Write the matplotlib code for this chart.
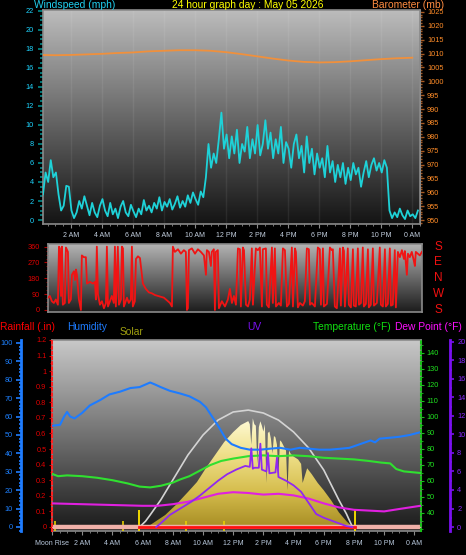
import numpy as np
import matplotlib.pyplot as plt
from matplotlib.colors import LinearSegmentedColormap
from matplotlib.ticker import MultipleLocator, FuncFormatter

plt.rcParams['font.family'] = ['Liberation Sans', 'DejaVu Sans']

# ---------------- data ----------------
# wind speed, 10 minute samples starting 00:12
wind_mph = [
    2.7, 5.0, 4.0, 6.3, 4.5, 5.0,
    2.7, 1.0, 1.5, 3.6, 3.5, 1.0,
    0.2, 0.8, 2.0, 1.2, 2.5, 1.5,
    0.5, 1.8, 0.8, 0.3, 1.5, 2.2,
    1.0, 0.4, 1.8, 0.6, 1.2, 0.2,
    1.4, 2.0, 0.8, 0.4, 1.6, 0.9,
    0.3, 1.2, 0.6, 2.1, 1.0, 1.5,
    0.8, 1.8, 1.2, 2.4, 1.0, 1.9,
    1.4, 2.2, 1.1, 1.7, 2.5, 1.3,
    2.0, 1.4, 2.6, 1.8, 2.9, 2.2,
    1.6, 3.0, 2.4, 4.5, 8.0, 5.5,
    7.0, 6.0, 8.5, 11.3, 7.5, 9.0,
    6.5, 8.8, 7.0, 9.5, 6.0, 8.0,
    7.2, 9.8, 6.5, 8.5, 7.0, 10.0,
    6.8, 8.0, 10.5, 7.5, 9.2, 6.5,
    8.5, 7.0, 9.8, 6.0, 8.2, 7.5,
    5.5, 8.0, 9.0, 6.5, 7.8, 5.0,
    8.8, 6.0, 7.5, 4.8, 7.0, 5.5,
    6.5, 4.5, 7.8, 5.0, 6.2, 4.0,
    5.8, 4.5, 6.0, 3.8, 5.5, 4.2,
    6.0, 4.8, 5.5, 3.5, 5.0, 6.2,
    4.5, 5.8, 6.5, 5.2, 6.0, 5.0,
    6.3, 5.5, 1.0, 0.2, 0.8, 0.3,
    1.2, 0.5, 0.1, 1.0, 0.4, 0.6,
    0.2, 1.0]
wind_hours = 0.2 + np.arange(len(wind_mph)) / 6

baro_hours = list(range(25))
baro_mb = [1009.5, 1009.4, 1009.5, 1009.7, 1009.9, 1010.2, 1010.4, 1010.8,
           1011.0, 1011.2, 1011.2, 1011.0, 1010.5, 1009.8, 1009.0, 1008.2,
           1007.5, 1007.0, 1006.8, 1006.9, 1007.2, 1007.6, 1008.0, 1008.3,
           1008.5]

dir_hours = [
    0.20, 0.32, 0.45, 0.58, 0.71, 0.84, 0.91, 0.97, 1.04, 1.10, 1.16, 1.29,
    1.36, 1.49, 1.55, 1.68, 1.75, 1.88, 1.94, 2.01, 2.07, 2.20, 2.33, 2.39,
    2.52, 2.65, 2.72, 2.91, 3.11, 3.24, 3.30, 3.36, 3.43, 3.56, 3.69, 3.82,
    3.95, 4.01, 4.08, 4.21, 4.33, 4.46, 4.53, 4.59, 4.72, 4.79, 4.92, 4.98,
    5.05, 5.11, 5.31, 5.43, 5.56, 5.63, 5.69, 5.82, 5.89, 6.02, 6.15, 6.21,
    6.34, 6.53, 6.73, 6.92, 7.12, 7.31, 7.51, 7.70, 7.89, 8.09, 8.22, 8.28,
    8.41, 8.61, 8.80, 8.99, 9.12, 9.19, 9.25, 9.32, 9.51, 9.71, 9.90, 10.09,
    10.29, 10.42, 10.48, 10.61, 10.74, 10.80, 10.93, 11.00, 11.06, 11.19,
    11.26, 11.45, 11.65, 11.84, 11.97, 12.10, 12.23,
    12.36, 12.49, 12.62, 12.68, 12.81, 12.88, 13.01, 13.14, 13.26, 13.39,
    13.46, 13.65, 13.78, 13.91, 14.04, 14.10, 14.30, 14.36, 14.49, 14.69,
    14.75, 14.88, 14.95, 15.14, 15.27, 15.40, 15.53, 15.66, 15.79, 15.98,
    16.05, 16.18, 16.24, 16.37, 16.50, 16.69, 16.82, 16.95, 17.08, 17.15,
    17.27, 17.47, 17.66, 17.79, 17.86, 17.99, 18.05, 18.25, 18.44, 18.57,
    18.63, 18.76, 18.89, 19.09, 19.15, 19.28, 19.35, 19.41, 19.60, 19.67,
    19.80, 19.93, 19.99, 20.12, 20.25, 20.32, 20.45, 20.57, 20.64, 20.77,
    20.90, 20.96, 21.09, 21.22, 21.29, 21.48, 21.67, 21.74, 21.87, 22.00,
    22.06, 22.19, 22.32, 22.39, 22.51, 22.64, 22.71, 22.84, 22.97, 23.10,
    23.23, 23.29, 23.42, 23.49, 23.61, 23.74, 23.87, 23.94, 24.00, 24.13,
    24.26, 24.39]
dir_deg = [
    70, 80, 50, 40, 60, 30, 360, 350, 80, 360, 30, 40,
    355, 330, 40, 60, 200, 220, 170, 230, 200, 60, 0, 310,
    300, 300, 150, 160, 150, 160, 60, 360, 90, 30, 50, 10,
    40, 360, 20, 50, 80, 40, 360, 20, 360, 30, 60, 360,
    350, 20, 70, 40, 60, 360, 20, 50, 290, 305, 295, 250,
    150, 120, 100, 95, 85, 80, 75, 70, 55, 40, 20, 360,
    330, 345, 320, 340, 330, 0, 10, 340, 350, 320, 345, 330,
    310, 200, 340, 330, 250, 330, 345, 0, 330, 340,
    10, 50, 20, 60, 120, 40, 80,
    30, 350, 345, 20, 355, 340, 30, 20, 60, 350,
    30, 350, 340, 355, 20, 345, 350, 30, 15, 355,
    40, 350, 20, 40, 25, 350, 340, 20, 35, 355,
    20, 350, 330, 15, 40, 25, 50, 350, 345, 30,
    40, 20, 355, 345, 30, 350, 20, 35, 355, 340,
    345, 20, 10, 350, 25, 355, 335, 20, 350, 30,
    15, 345, 25, 20, 350, 30, 40, 355, 20, 35,
    345, 15, 30, 350, 25, 40, 355, 30, 20, 345,
    20, 35, 350, 25, 30, 340, 15, 330, 300, 340,
    290, 335, 200, 320, 300, 330, 280, 250, 330, 320,
    310, 330]

hum_hours = [0, 0.53, 0.8, 1.0, 1.2, 1.5, 2.0, 2.5, 3.2, 3.8, 4.5, 5.2, 5.8,
             6.5, 6.8, 7.2, 7.8, 8.5, 9.1, 9.8, 10.2, 10.6, 11.0, 11.5, 11.9,
             12.5, 13.1, 13.8, 14.4, 15.1, 15.8, 16.4, 17.1, 17.7, 18.4, 19.1,
             19.7, 20.4, 21.1, 21.4, 21.7, 22.4, 23.0, 23.7, 24.4]
hum_pct = [55, 55.5, 60, 62.5, 60, 59, 62, 66, 69, 72, 73.5, 75.5, 76,
           78.5, 77.5, 76, 74, 72.5, 71, 68, 65, 60, 55, 48, 45,
           43, 42, 42, 42.5, 43, 42, 43, 42.5, 42, 42, 42.5,
           43, 45, 47, 46, 48, 48.5, 49, 50, 51.5]

temp_hours = [0, 0.4, 1, 2, 3, 4, 5, 5.8, 6.5, 7.2, 8, 8.5, 9.1, 9.8, 10.5,
              11.2, 12, 13, 14, 15, 16, 17, 18, 19, 20, 21, 21.8, 22.4, 22.8,
              23.3, 24.4]
temp_f = [64.5, 63.0, 63.5, 63, 62, 60.5, 58.5, 56.5, 56, 57, 59, 61, 63, 66.5,
          70, 72.5, 74, 75.5, 76, 75.5, 76, 75.5, 74.5, 74, 73.5, 72.5, 71.5,
          71, 67.5, 66, 65]

dew_hours = [0, 2, 4, 6, 7, 8, 9, 10, 11, 12, 13, 14, 15, 16, 17, 18, 19, 20,
             21, 22, 23, 24.4]
dew_f = [46, 45.5, 45, 44.5, 44.5, 45.5, 47, 49.5, 52, 53, 52.5, 51.5, 52,
         51, 49, 46, 43.5, 42, 41.5, 41, 42.5, 44.5]

solar_max_hours = [5.8, 6.2, 6.5, 7.2, 8, 9, 10, 11, 12, 13, 14, 15, 16, 17,
                   18, 19, 19.5, 19.9]
solar_max_wm2 = [0, 40, 82, 184, 320, 490, 626, 728, 783, 796, 776, 728, 647,
                 538, 388, 184, 90, 0]

solar_hours = [6.3, 6.8, 7.5, 8.2, 9.0, 9.6, 10.2, 10.8, 11.4, 12.0, 12.5,
               13.0, 13.1, 13.2, 13.3, 13.4, 13.5, 13.6, 13.7, 13.8, 13.9,
               14.0, 14.1, 14.2, 14.3, 14.4, 14.5, 14.6, 14.7, 14.8, 14.9,
               15.0, 15.1, 15.2, 15.4, 15.5, 15.6, 15.7, 15.8, 16.0, 16.3,
               16.5, 16.6, 16.9, 17.2, 17.6, 18.0, 18.5, 19.0, 19.5, 19.9]
solar_wm2 = [0, 34, 82, 150, 238, 306, 402, 490, 578, 646, 694,
             721, 700, 560, 740, 700, 690, 430, 680, 720, 690,
             650, 700, 300, 640, 650, 600, 500, 620, 610, 560,
             350, 590, 580, 540, 520, 250, 520, 500, 480, 460,
             430, 300, 400, 360, 300, 250, 180, 100, 40, 0]

uv_hours = [6.9, 7.2, 7.8, 8.5, 9.2, 9.8, 10.4, 11.0, 11.6, 12.2, 12.8, 13.1,
            13.2, 13.3, 13.4, 13.7, 13.8, 13.9, 14.2, 14.3, 14.4, 14.8, 14.9,
            15.0, 15.5, 16.0, 16.5, 17.0, 17.5, 18.0, 18.5, 19.0, 19.5, 19.9]
uv_index = [0, 0.4, 1.3, 2.0, 2.7, 3.4, 4.2, 5.0, 5.7, 6.2, 6.6, 6.5,
            8.5, 6.3, 6.4, 6.4, 9.0, 6.2, 6.0, 8.0, 5.8, 5.9, 7.5,
            5.4, 5.0, 4.5, 3.8, 2.6, 1.4, 1.0, 0.7, 0.4, 0.1, 0]

rain_hours = [0, 24.4]
rain_in = [0, 0]
sun_hours = [5.75, 20.05]          # sunrise / sunset
event_hours = [0.2, 4.7, 8.9, 11.4]

top_ticks = list(range(2, 25, 2))
top_labels = ['2 AM', '4 AM', '6 AM', '8 AM', '10 AM', '12 PM', '2 PM',
              '4 PM', '6 PM', '8 PM', '10 PM', '0 AM']
bot_ticks = [0] + top_ticks
bot_labels = ['Moon Rise'] + top_labels
dir_letters = ['S', 'E', 'N', 'W', 'S']
dir_letter_deg = [360, 270, 180, 90, 0]

# ---------------- helpers ----------------
W, H = 466, 555


def box(x0, y0, x1, y1):
    return [x0 / W, 1 - y1 / H, (x1 - x0) / W, (y1 - y0) / H]


def gradient(ax, top, bottom):
    cmap = LinearSegmentedColormap.from_list('bg', [bottom, top])
    ax.imshow(np.linspace(0, 1, 256).reshape(-1, 1), cmap=cmap, aspect='auto',
              origin='lower', extent=[0, 1, 0, 1], transform=ax.transAxes,
              zorder=0)


def frame(ax):
    for s in ax.spines.values():
        s.set_color('#8a8a8a')
        s.set_linewidth(1.2)


def only_spine(ax, side):
    for k, s in ax.spines.items():
        s.set_visible(k == side)


fig = plt.figure(figsize=(W / 100, H / 100), dpi=100, facecolor='black')

# ---------------- top: wind + barometer ----------------
ax_w = fig.add_axes(box(43, 10, 420, 224))
gradient(ax_w, '#bcbcbc', '#141414')
frame(ax_w)
ax_w.plot(wind_hours, wind_mph, color='#1ed2d8', lw=1.3, zorder=3)
ax_w.set_xlim(0.2, 24.5)
ax_w.set_ylim(-0.42, 22.1)
ax_w.set_yticks(range(0, 23, 2))
ax_w.yaxis.set_minor_locator(MultipleLocator(0.5))
ax_w.tick_params(axis='y', which='both', colors='#008b8b', labelcolor='#1ed4ff',
                 labelsize=5.3, width=1.2, pad=3)
ax_w.tick_params(axis='y', which='major', length=3.5)
ax_w.tick_params(axis='y', which='minor', length=2)
ax_w.set_xticks(top_ticks)
ax_w.set_xticklabels(top_labels)
ax_w.xaxis.set_minor_locator(MultipleLocator(0.5))
ax_w.tick_params(axis='x', which='both', colors='#8a8a8a', labelcolor='#c4d0e0',
                 labelsize=5, pad=2.5)
ax_w.tick_params(axis='x', which='major', length=3)
ax_w.tick_params(axis='x', which='minor', length=1.5)
ax_w.grid(axis='x', color='white', alpha=0.07, lw=1)

ax_b = ax_w.twinx()
only_spine(ax_b, 'right')
ax_b.spines['right'].set_color('#8a8a8a')
ax_b.plot(baro_hours, baro_mb, color='#f0903c', lw=1.3, zorder=3)
ax_b.set_ylim(948.56, 1025.7)
ax_b.set_yticks(range(950, 1026, 5))
ax_b.yaxis.set_minor_locator(MultipleLocator(1))
ax_b.tick_params(axis='y', which='both', colors='#a85a22', labelcolor='#ff8c28',
                 labelsize=5.3, width=1.0, pad=2)
ax_b.tick_params(axis='y', which='major', length=3)
ax_b.tick_params(axis='y', which='minor', length=1.5)

# ---------------- middle: wind direction ----------------
ax_d = fig.add_axes(box(48, 244, 422, 312))
gradient(ax_d, '#b4b4b4', '#1c1c1c')
frame(ax_d)
ax_d.plot(dir_hours, dir_deg, color='#f01414', lw=1.3, zorder=3)
ax_d.set_xlim(0.2, 24.4)
ax_d.set_ylim(-11.4, 375)
ax_d.set_xticks([])
ax_d.set_yticks([0, 90, 180, 270, 360])
ax_d.yaxis.set_minor_locator(MultipleLocator(22.5))
ax_d.tick_params(axis='y', which='both', colors='#b00000', labelcolor='#e00000',
                 labelsize=5.3, pad=3)
ax_d.tick_params(axis='y', which='major', length=3)
ax_d.tick_params(axis='y', which='minor', length=1.5)
for letter, deg in zip(dir_letters, dir_letter_deg):
    ax_d.text(1.043, deg, letter, transform=ax_d.get_yaxis_transform(),
              color='#f01010', fontsize=8.5, ha='center', va='center')

# ---------------- bottom: rain, humidity, solar, uv, temperature ----------------
ax_s = fig.add_axes(box(52, 340, 421, 531))
gradient(ax_s, '#c8c8c8', '#1a1a1a')
frame(ax_s)
poly = ax_s.fill_between(solar_hours, solar_wm2, 0, color='none', lw=0)
sol_cmap = LinearSegmentedColormap.from_list(
    'sol', ['#a88e24', '#d6be4e', '#efe08a', '#fffbd8'])
im = ax_s.imshow(np.linspace(0, 1, 256).reshape(-1, 1), cmap=sol_cmap,
                 aspect='auto', origin='lower',
                 extent=[min(solar_hours), max(solar_hours), 0, max(solar_wm2)],
                 zorder=1)
im.set_clip_path(poly.get_paths()[0], transform=ax_s.transData)
ax_s.plot(solar_max_hours, solar_max_wm2, color='#d4d4d4', lw=1.2, zorder=2)
ax_s.vlines(event_hours, 0, 0.05, transform=ax_s.get_xaxis_transform(),
            color='#e8d000', lw=1.2, zorder=4)
ax_s.vlines(sun_hours, 0, 0.11, transform=ax_s.get_xaxis_transform(),
            color='#f0d800', lw=1.4, zorder=4)
ax_s.set_xlim(0, 24.44)
ax_s.set_ylim(-27, 1273)
ax_s.yaxis.set_visible(False)
ax_s.set_xticks(bot_ticks)
ax_s.set_xticklabels(bot_labels)
ax_s.xaxis.set_minor_locator(MultipleLocator(0.5))
ax_s.tick_params(axis='x', which='both', colors='#8a8a8a', labelcolor='#b8c8dc',
                 labelsize=5, pad=3.5)
ax_s.tick_params(axis='x', which='major', length=3)
ax_s.tick_params(axis='x', which='minor', length=1.5)

# rainfall (left, on plot edge)
ax_r = ax_s.twinx()
ax_r.yaxis.tick_left()
only_spine(ax_r, 'left')
ax_r.spines['left'].set_color('#ff2020')
ax_r.spines['left'].set_linestyle((0, (1, 1.5)))
ax_r.spines['left'].set_linewidth(1.5)
ax_r.plot(rain_hours, rain_in, color='#f0b0a8', lw=3.2, zorder=2)
ax_r.plot(sun_hours, [0, 0], color='#ff1010', lw=2, zorder=3)
ax_r.set_ylim(-0.026, 1.2)
ax_r.set_yticks(np.arange(0, 1.21, 0.1))
ax_r.yaxis.set_major_formatter(FuncFormatter(lambda v, _: f'{v:g}'))
ax_r.yaxis.set_minor_locator(MultipleLocator(0.05))
ax_r.tick_params(axis='y', which='both', colors='#d00000', labelcolor='#e00000',
                 labelsize=5.3, pad=1.5)
ax_r.tick_params(axis='y', which='major', length=2.5)
ax_r.tick_params(axis='y', which='minor', length=1.2)

# humidity (left, outward)
ax_h = ax_s.twinx()
ax_h.yaxis.tick_left()
only_spine(ax_h, 'left')
ax_h.spines['left'].set_position(('outward', 22))
ax_h.spines['left'].set_color('#1e7cff')
ax_h.spines['left'].set_linewidth(2)
ax_h.plot(hum_hours, hum_pct, color='#1e7cff', lw=1.5, zorder=3)
ax_h.set_ylim(-2.2, 101.6)
ax_h.set_yticks(range(0, 101, 10))
ax_h.yaxis.set_minor_locator(MultipleLocator(2))
ax_h.tick_params(axis='y', which='both', colors='#1e7cff', labelcolor='#1e80ff',
                 labelsize=5.3, pad=2.5, width=1.2)
ax_h.tick_params(axis='y', which='major', length=3.5)
ax_h.tick_params(axis='y', which='minor', length=1.8)

# temperature + dew point (right)
ax_t = ax_s.twinx()
only_spine(ax_t, 'right')
ax_t.spines['right'].set_color('#18c018')
ax_t.spines['right'].set_linestyle((0, (1, 1.5)))
ax_t.spines['right'].set_linewidth(1.5)
ax_t.plot(temp_hours, temp_f, color='#30e030', lw=1.5, zorder=3)
ax_t.plot(dew_hours, dew_f, color='#e020e0', lw=1.5, zorder=3)
ax_t.set_ylim(28.75, 148.1)
ax_t.set_yticks(range(40, 141, 10))
ax_t.yaxis.set_minor_locator(MultipleLocator(5))
ax_t.tick_params(axis='y', which='both', colors='#18c018', labelcolor='#20e020',
                 labelsize=5.3, pad=1.5)
ax_t.tick_params(axis='y', which='major', length=2.5)
ax_t.tick_params(axis='y', which='minor', length=1.2)

# uv (right, outward)
ax_u = ax_s.twinx()
only_spine(ax_u, 'right')
ax_u.spines['right'].set_position(('outward', 21))
ax_u.spines['right'].set_color('#7a10f0')
ax_u.spines['right'].set_linewidth(2)
ax_u.plot(uv_hours, uv_index, color='#9028f0', lw=1.3, zorder=3)
ax_u.set_ylim(-0.43, 20.2)
ax_u.set_yticks(range(0, 21, 2))
ax_u.yaxis.set_minor_locator(MultipleLocator(1))
ax_u.tick_params(axis='y', which='both', colors='#7a10f0', labelcolor='#8a2cff',
                 labelsize=5.3, pad=2, width=1.2)
ax_u.tick_params(axis='y', which='major', length=3)
ax_u.tick_params(axis='y', which='minor', length=1.5)

# ---------------- headers ----------------
def header(x, y, s, color):
    fig.text(x / W, 1 - y / H, s, color=color, fontsize=7.4, ha='left',
             va='center')


header(34, 5, 'Windspeed (mph)', '#20d0f0')
header(172, 5, '24 hour graph day : May 05 2026', '#ffff00')
header(372, 5, 'Barometer (mb)', '#ff8c40')
header(0, 327, 'Rainfall (.in)', '#ff0000')
header(67, 327, 'Humidity', '#1e7cff')
header(120, 332, 'Solar', '#a0a010')
header(247, 327, 'UV', '#7a10f0')
header(313, 327, 'Temperature (\u00b0F)', '#10e010')
header(395, 327, 'Dew Point (\u00b0F)', '#ff10ff')

fig.savefig('out.png', dpi=100, facecolor='black')
